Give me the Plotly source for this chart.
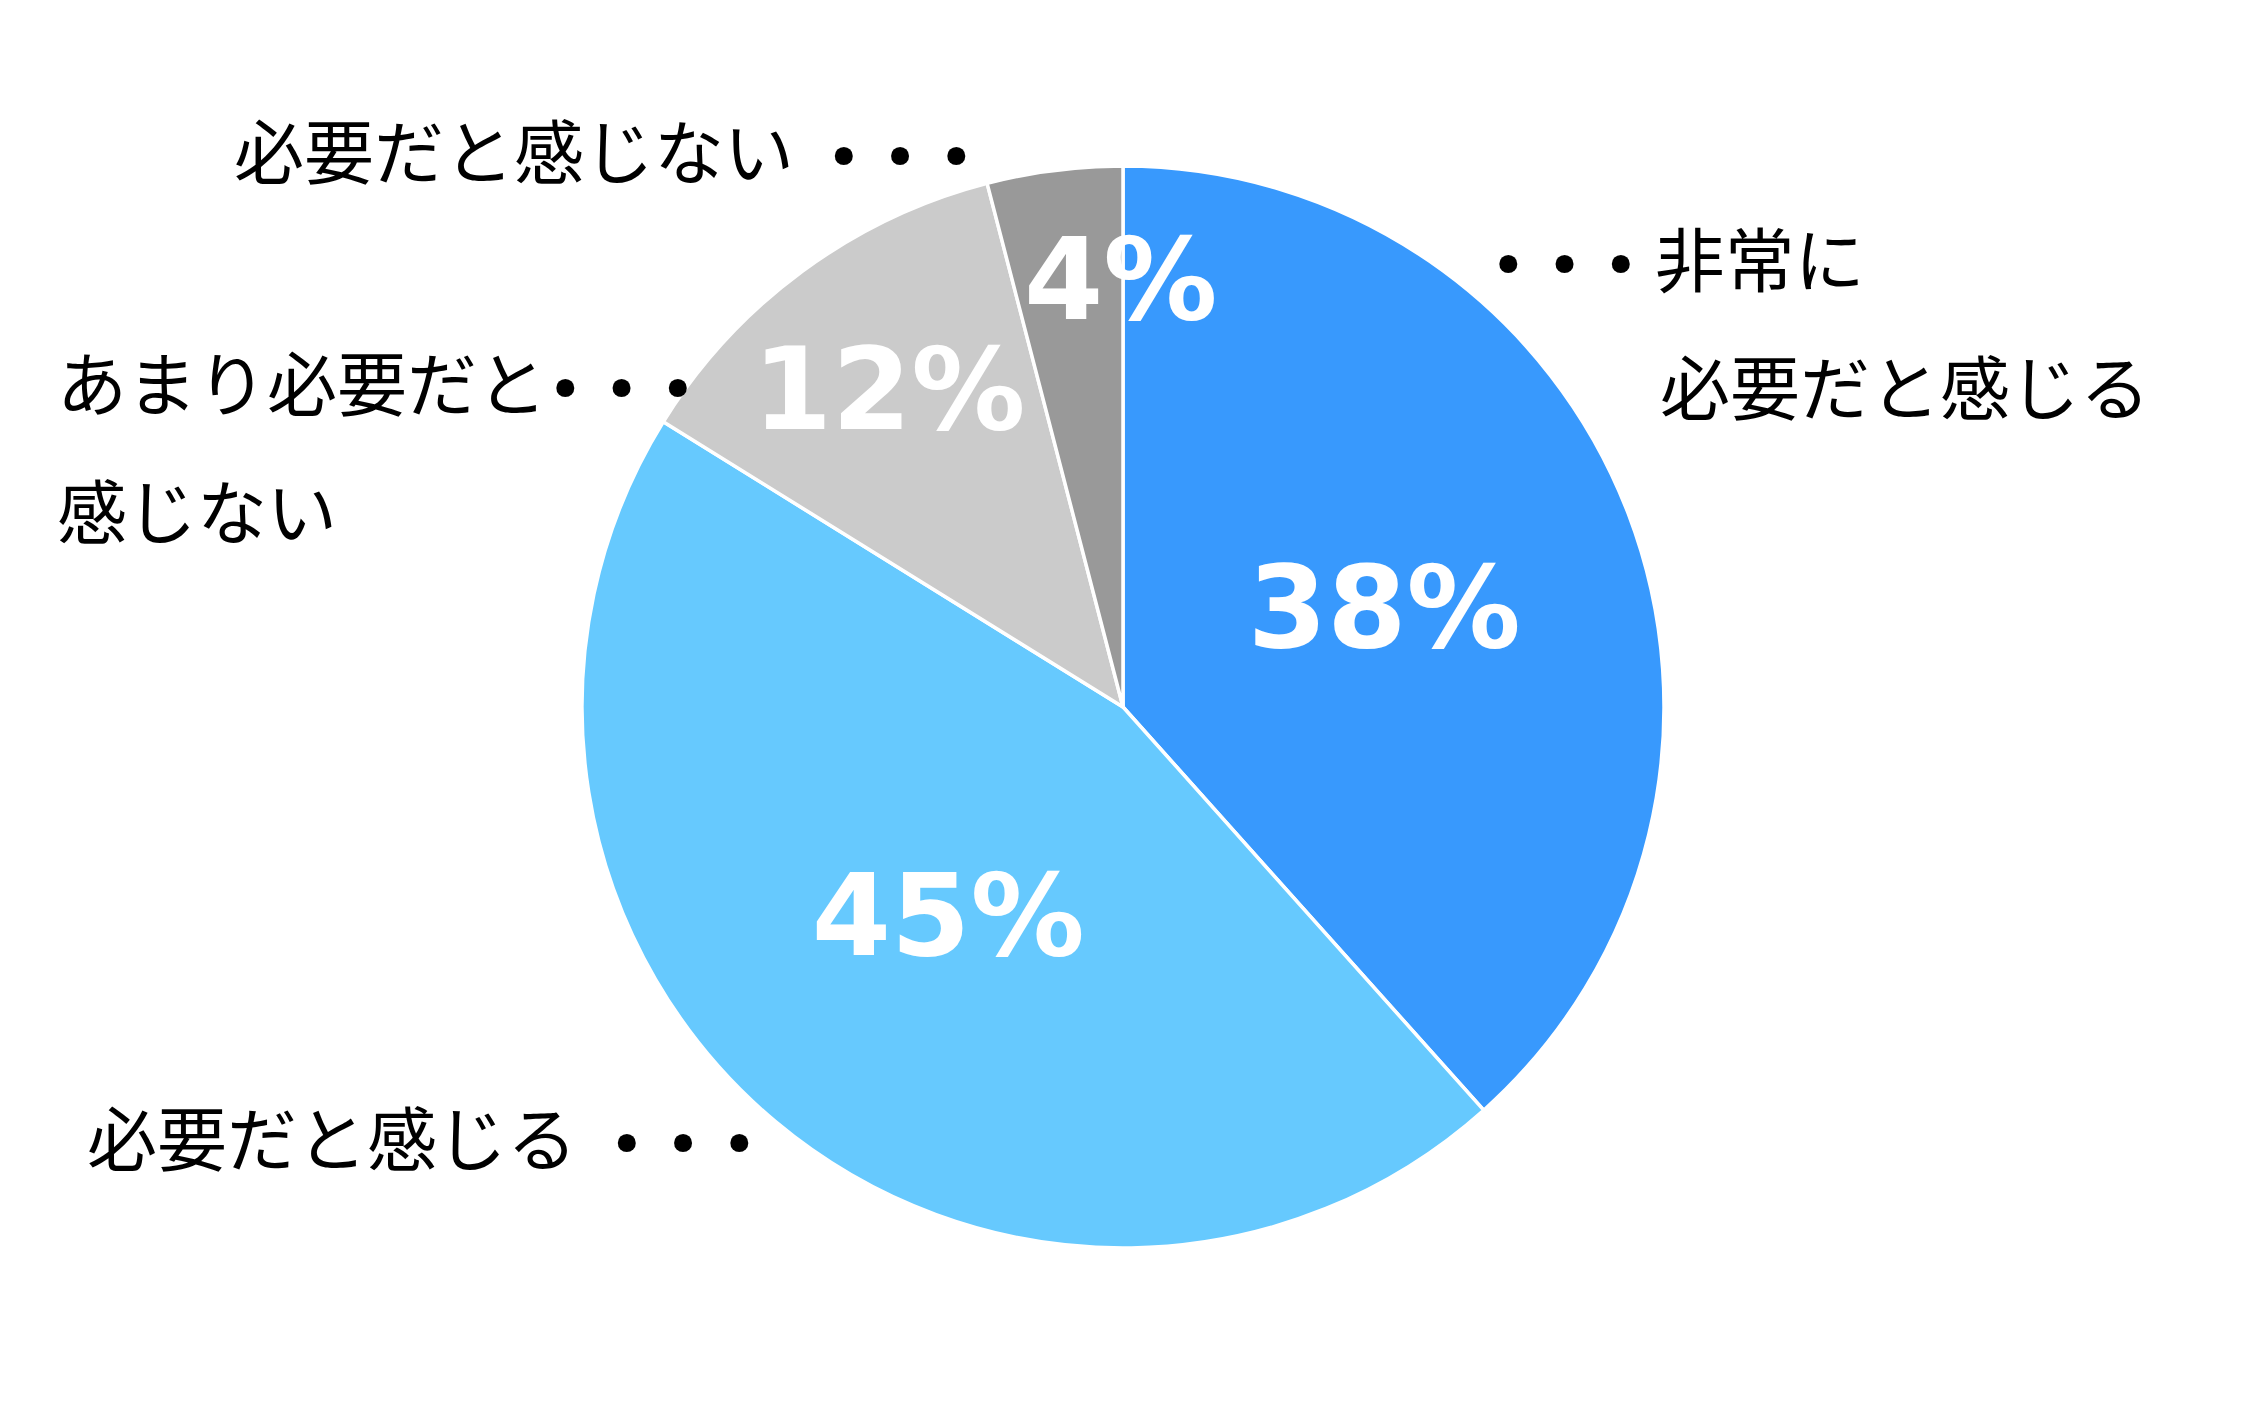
import plotly.graph_objects as go

categories = ['非常に必要だと感じる', '必要だと感じる', 'あまり必要だと感じない', '必要だと感じない']
values = [38, 45, 12, 4]
colors = ['#3899FD', '#66C9FE', '#CBCBCB', '#999999']

DOTS = '<span style="font-family:DejaVu Sans;font-size:62px">• • •</span>'
GAP = '\u00a0\u00a0'
# label lines beside the pie (text, left x px, centre y px)
label_lines = [
    (DOTS + ' 非常に', 1480, 249),
    ('必要だと感じる', 1650, 377),
    ('必要だと感じる' + GAP + DOTS, 77, 1127),
    ('あまり必要だと' + DOTS, 47, 372),
    ('感じない', 47, 501),
    ('必要だと感じない' + GAP + DOTS, 224, 141),
]

W, H = 2247, 1417
cx, cy, r = 1115, 699, 541

fig = go.Figure()
fig.add_trace(go.Pie(
    labels=categories,
    values=values,
    sort=False,
    direction='clockwise',
    rotation=0,
    marker=dict(colors=colors, line=dict(color='white', width=3.5)),
    texttemplate='%{value}%',
    textposition=['inside', 'inside', 'inside', 'none'],
    insidetextorientation='horizontal',
    textfont=dict(family='DejaVu Sans', size=114, color='white', weight='bold'),
    hoverinfo='label+value',
    showlegend=False,
    domain=dict(x=[(cx - r) / W, (cx + r) / W], y=[1 - (cy + r) / H, 1 - (cy - r) / H]),
))

# the smallest slice's label sits over the slice edge, as in the source
fig.add_annotation(text=f'{values[3]}%', x=1113 / W, y=1 - 271 / H, xref='paper', yref='paper',
                   xanchor='center', yanchor='middle', showarrow=False,
                   font=dict(family='DejaVu Sans', size=114, color='white', weight='bold'))

for txt, x, y in label_lines:
    fig.add_annotation(text=txt, x=x / W, y=1 - y / H, xref='paper', yref='paper',
                       xanchor='left', yanchor='middle', showarrow=False,
                       font=dict(family='Noto Sans CJK JP', size=70, color='black'))

fig.update_layout(
    width=W, height=H,
    margin=dict(l=0, r=0, t=0, b=0),
    paper_bgcolor='white',
    plot_bgcolor='white',
    uniformtext=dict(minsize=114, mode='show'),
)

fig.write_html("out.html")
